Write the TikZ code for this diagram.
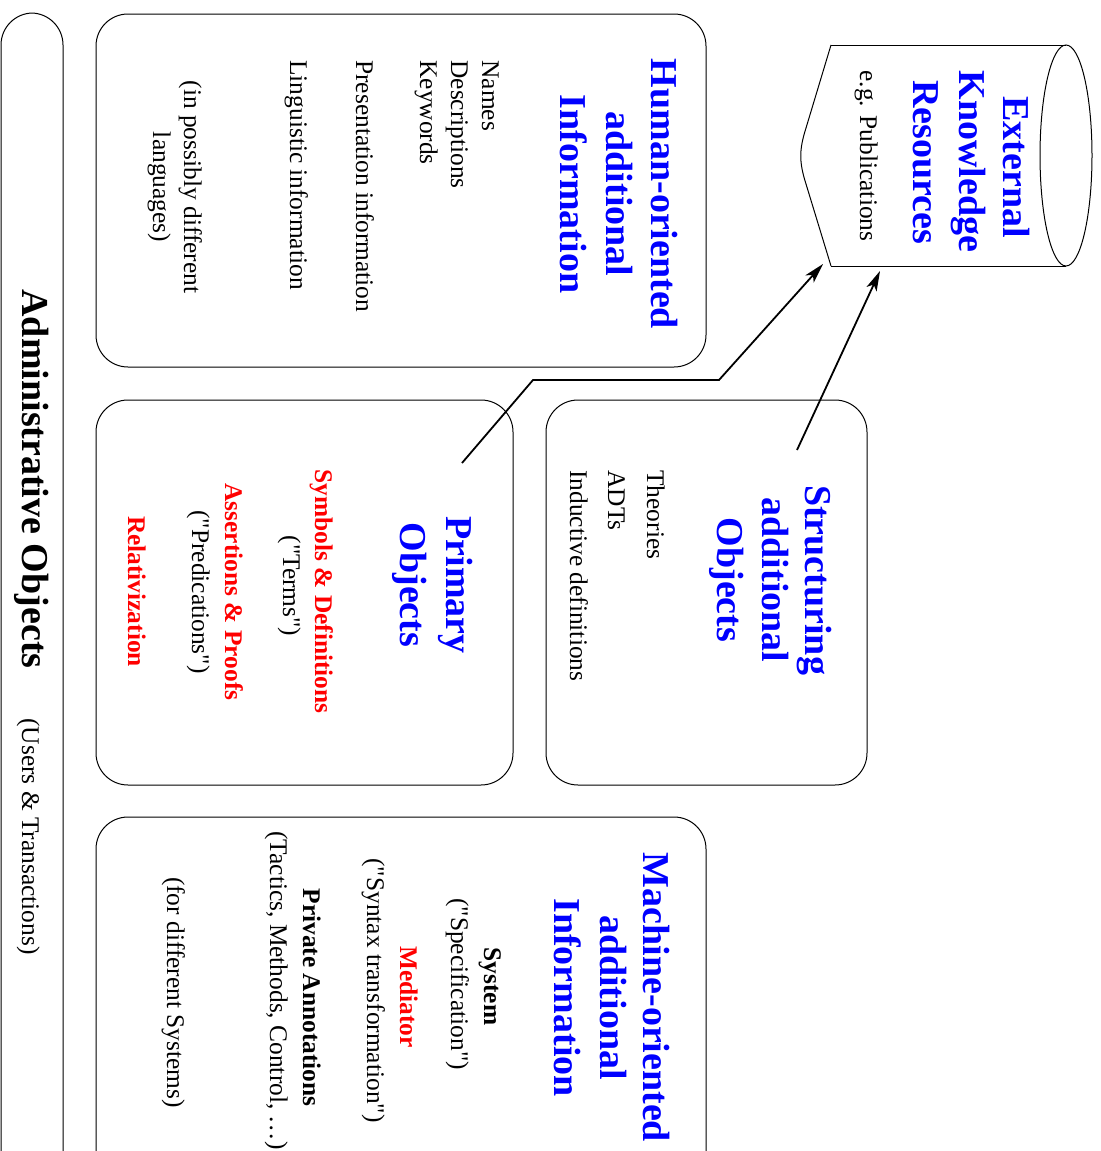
\documentclass[tikz,border=0pt]{standalone}
\usepackage{fontspec}
\setmainfont{Liberation Serif}[Ligatures=TeXOff]
\usetikzlibrary{arrows.meta}
\definecolor{ttlblue}{RGB}{0,0,255}
\definecolor{itemred}{RGB}{255,0,0}
\begin{document}
\begin{tikzpicture}[x=0.5pt,y=-0.5pt,
  box/.style={draw=black, line width=0.5pt, rounded corners=16pt},
  rtxt/.style={rotate=-90, inner sep=0pt, font=\fontsize{12.7}{15}\selectfont},
  rbold/.style={rtxt, font=\fontsize{12.7}{15}\selectfont\bfseries},
  rred/.style={rbold, text=itemred},
  rttl/.style={rotate=-90, inner sep=0pt, text=ttlblue, font=\fontsize{19}{23}\selectfont\bfseries},
  link/.style={draw=black, line width=0.9pt, -{Stealth[length=10pt,width=5.5pt,inset=2.5pt]}}]

\useasboundingbox (0,0) rectangle (1100,1151);

\begin{scope}
  \clip (0,0) rectangle (1100,1151);
  % frames
  \draw[box] (1,13) rectangle (63,1210);       % administrative objects
  \draw[box] (96,14) rectangle (706,367);      % human-oriented
  \draw[box] (96,400) rectangle (513,785);     % primary objects
  \draw[box] (546,400) rectangle (867,785);    % structuring objects
  \draw[box] (96,817) rectangle (706,1210);    % machine-oriented
\end{scope}

% external knowledge resources (cylinder)
\draw[line width=0.5pt] (831,45) -- (1066,45);
\draw[line width=0.5pt] (831,266) -- (1066,266);
\draw[line width=0.5pt] (1066,155.5) ellipse [x radius=26, y radius=110.5];
\draw[line width=0.5pt] (831,45) -- (806,128) .. controls (799,150) and (799,162) .. (806,184) -- (831,266);

% administrative objects
\node[rbold, font=\fontsize{19}{23}\selectfont\bfseries, anchor=base] (adm) at (22,479) {Administrative Objects};
\node[rtxt, anchor=base] (admsub) at (22,836.5) {(Users \& Transactions)};

% human-oriented additional information
\node[rttl, anchor=base] (h1) at (651,194) {Human-oriented};
\node[rttl, anchor=base] (h2) at (606,194) {additional};
\node[rttl, anchor=base] (h3) at (560,194) {Information};
\node[rtxt, anchor=base west] (hn) at (482,60) {Names};
\node[rtxt, anchor=base west] (hd) at (451,60) {Descriptions};
\node[rtxt, anchor=base west] (hk) at (420,60) {Keywords};
\node[rtxt, anchor=base west] (hp) at (356,60) {Presentation information};
\node[rtxt, anchor=base west] (hl) at (290,60) {Linguistic information};
\node[rtxt, anchor=base] (hi) at (184,187) {(in possibly different};
\node[rtxt, anchor=base] (hg) at (153,187) {languages)};

% structuring additional objects
\node[rttl, anchor=base] (s1) at (805,580) {Structuring};
\node[rttl, anchor=base] (s2) at (762,580) {additional};
\node[rttl, anchor=base] (s3) at (717,580) {Objects};
\node[rtxt, anchor=base west] (st) at (647,470) {Theories};
\node[rtxt, anchor=base west] (sa) at (608,470) {ADTs};
\node[rtxt, anchor=base west] (si) at (570,470) {Inductive definitions};

% primary objects
\node[rttl, anchor=base] (p1) at (446,585) {Primary};
\node[rttl, anchor=base] (p2) at (400,585) {Objects};
\node[rred, anchor=base] (ps) at (315,591.5) {Symbols \& Definitions};
\node[rtxt, anchor=base] (pt) at (283,586) {("Terms")};
\node[rred, anchor=base] (pa) at (225,592) {Assertions \& Proofs};
\node[rtxt, anchor=base] (pp) at (192,592) {("Predications")};
\node[rred, anchor=base] (pr) at (128,591.5) {Relativization};

% machine-oriented additional information
\node[rttl, anchor=base] (m1) at (643,997.5) {Machine-oriented};
\node[rttl, anchor=base] (m2) at (600,997.5) {additional};
\node[rttl, anchor=base] (m3) at (554,997.5) {Information};
\node[rbold, anchor=base] (ms) at (484,986.5) {System};
\node[rtxt, anchor=base] (msp) at (451,984) {("Specification")};
\node[rred, anchor=base] (mm) at (400,997) {Mediator};
\node[rtxt, anchor=base] (msy) at (367,990.5) {("Syntax transformation")};
\node[rbold, anchor=base] (mpa) at (303,997.5) {Private Annotations};
\node[rtxt, anchor=base] (mt) at (270,990.5) {(Tactics, Methods, Control, \dots)};
\node[rtxt, anchor=base] (mf) at (167,992.5) {(for different Systems)};

% external resources labels
\node[rttl, anchor=base] (e1) at (1003,167) {External};
\node[rttl, anchor=base] (e2) at (959,161.5) {Knowledge};
\node[rttl, anchor=base] (e3) at (913,162.5) {Resources};
\node[rtxt, anchor=base] (e4) at (860,156) {e.g. Publications};

% connectors
\coordinate (fromPrim) at (462,463);
\coordinate (fromStruct) at (797,450);
\coordinate (bendA) at (533,380);
\coordinate (bendB) at (719,380);
\coordinate (toExtA) at (823,264);
\coordinate (toExtB) at (880,271);
\draw[link] (fromPrim) -- (bendA) -- (bendB) -- (toExtA);
\draw[link] (fromStruct) -- (toExtB);
\end{tikzpicture}
\end{document}
